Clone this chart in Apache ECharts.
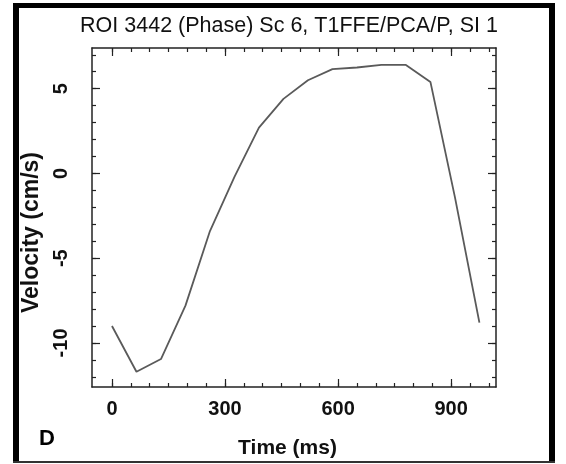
<!DOCTYPE html>
<html>
<head>
<meta charset="utf-8">
<script src="https://cdn.jsdelivr.net/npm/echarts@6/dist/echarts.min.js"></script>
<style>html,body{margin:0;padding:0;background:#fff}#c{width:566px;height:464px}</style>
</head>
<body>
<div id="c"></div>
<script>
// Data
var timesMs = [0, 65, 130, 195, 260, 325, 390, 455, 520, 585, 650, 715, 780, 845, 910, 975];
var velocity = [-9.0, -11.7, -10.95, -7.8, -3.4, -0.2, 2.7, 4.4, 5.5, 6.15, 6.25, 6.4, 6.4, 5.4, -1.4, -8.8];
var xMajorTicks = [0, 300, 600, 900];
var xMinorTicks = [0, 50, 100, 150, 200, 250, 300, 350, 400, 450, 500, 550, 600, 650, 700, 750, 800, 850, 900, 950, 1000];
var yMajorTicks = [-10, -5, 0, 5];
var yMinorTicks = [-12, -11, -10, -9, -8, -7, -6, -5, -4, -3, -2, -1, 0, 1, 2, 3, 4, 5, 6, 7];
var titleText = 'ROI 3442 (Phase) Sc 6, T1FFE/PCA/P, SI 1';
var xName = 'Time (ms)';
var yName = 'Velocity (cm/s)';
var panelLabel = 'D';

var FONT = '"Liberation Sans", Arial, sans-serif';
var X_MIN = -53, X_MAX = 1019, Y_MIN = -12.6, Y_MAX = 7.4;
var AX = '#222';

function xAx(pos, ticks, len, main) {
  return {
    type: 'value', position: pos, min: X_MIN, max: X_MAX,
    splitLine: { show: false },
    axisLine: { show: main, onZero: false, lineStyle: { color: AX, width: 1.5 } },
    axisTick: { show: true, inside: true, length: len, customValues: ticks, lineStyle: { color: AX, width: 1.2 } },
    axisLabel: (pos === 'bottom' && main) ? { show: true, customValues: xMajorTicks, color: '#111', fontFamily: FONT, fontWeight: 'bold', fontSize: 20, margin: 12 } : { show: false },
    name: (pos === 'bottom' && main) ? xName : '',
    nameLocation: 'middle', nameGap: 51,
    nameTextStyle: { color: '#111', fontFamily: FONT, fontWeight: 'bold', fontSize: 21, padding: [0, 13, 0, 0] }
  };
}
function yAx(pos, ticks, len, main) {
  return {
    type: 'value', position: pos, min: Y_MIN, max: Y_MAX,
    splitLine: { show: false },
    axisLine: { show: main, onZero: false, lineStyle: { color: AX, width: 1.5 } },
    axisTick: { show: true, inside: true, length: len, customValues: ticks, lineStyle: { color: AX, width: 1.2 } },
    axisLabel: (pos === 'left' && main) ? { show: true, customValues: yMajorTicks, rotate: 90, color: '#111', fontFamily: FONT, fontWeight: 'bold', fontSize: 20, margin: 21 } : { show: false },
    name: (pos === 'left' && main) ? yName : '',
    nameLocation: 'middle', nameGap: 48,
    nameTextStyle: { color: '#111', fontFamily: FONT, fontWeight: 'bold', fontSize: 23, padding: [0, 30, 0, 0] }
  };
}

var chart = echarts.init(document.getElementById('c'), null, { renderer: 'canvas' });
chart.setOption({
  animation: false,
  backgroundColor: '#fff',
  title: {
    text: titleText, left: 284, top: 10, textAlign: 'center',
    textStyle: { color: '#111', fontFamily: FONT, fontWeight: 'normal', fontSize: 21.5 }
  },
  grid: { left: 92, top: 48, width: 404, height: 340, containLabel: false },
  xAxis: [
    xAx('bottom', xMajorTicks, 8, true),
    xAx('bottom', xMinorTicks, 4, false),
    xAx('top', xMajorTicks, 8, true),
    xAx('top', xMinorTicks, 4, false)
  ],
  yAxis: [
    yAx('left', yMajorTicks, 8, true),
    yAx('left', yMinorTicks, 4, false),
    yAx('right', yMajorTicks, 8, true),
    yAx('right', yMinorTicks, 4, false)
  ],
  series: [{
    type: 'line', xAxisIndex: 0, yAxisIndex: 0,
    data: timesMs.map(function (t, i) { return [t, velocity[i]]; }),
    showSymbol: false, symbol: 'none', silent: true,
    lineStyle: { color: '#5a5a5a', width: 1.8 }
  }],
  graphic: [
    { type: 'rect', shape: { x: 13, y: 3, width: 6, height: 460 }, style: { fill: '#000' } },
    { type: 'rect', shape: { x: 13, y: 3, width: 542, height: 5 }, style: { fill: '#000' } },
    { type: 'rect', shape: { x: 549, y: 3, width: 6, height: 460 }, style: { fill: '#000' } },
    { type: 'rect', shape: { x: 13, y: 461, width: 542, height: 2 }, style: { fill: '#333' } },
    { type: 'text', left: 39, top: 428, style: { text: panelLabel, fill: '#000', font: 'bold 22px ' + FONT } }
  ]
});
</script>
</body>
</html>
